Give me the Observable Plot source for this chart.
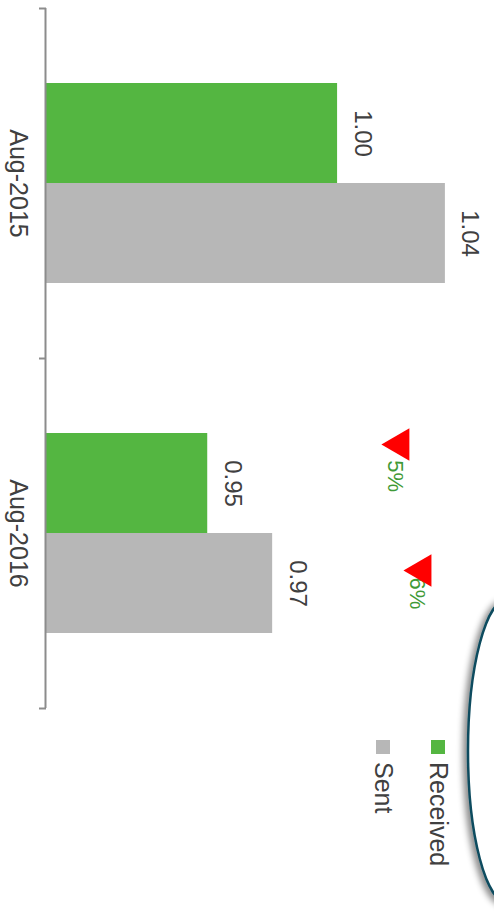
<!DOCTYPE html>
<html><head><meta charset="utf-8">
<script src="https://cdn.jsdelivr.net/npm/d3@7"></script>
<script src="https://cdn.jsdelivr.net/npm/@observablehq/plot@0.6"></script>
<style>
html,body{margin:0;padding:0;background:#fff;overflow:hidden;width:494px;height:911px;}
#rot{position:absolute;left:0;top:0;width:911px;height:494px;transform-origin:0 0;transform:translate(494px,0) rotate(90deg);font-family:"Liberation Sans",Arial,sans-serif;}
#legend{position:absolute;left:740px;top:45px;}
.row{display:flex;align-items:center;height:21px;margin-bottom:34px;font-size:25px;color:#404040;line-height:21px;}
.sw{width:14px;height:14px;margin-right:8px;flex:none;}
#deco{position:absolute;left:0;top:0;}
</style></head><body>
<svg id="deco" width="494" height="911">
  <defs><filter id="sh" x="-50%" y="-20%" width="200%" height="140%"><feDropShadow dx="-4" dy="2" stdDeviation="3" flood-color="#000" flood-opacity="0.45"/></filter></defs>
  <ellipse cx="508" cy="751" rx="40" ry="152" fill="#fff" stroke="#0e4b5e" stroke-width="2.5" filter="url(#sh)"/>
</svg>
<div id="rot"><div id="chart"></div><div id="legend"></div></div>
<script>
// ---- data ----
const categories = ["Aug-2015", "Aug-2016"];
const series = ["Received", "Sent"];
const received = [0.9995, 0.9453];
const sent = [1.0445, 0.9724];
const seriesColors = ["#54b641", "#b7b7b7"];
const changeLabels = ["5%", "6%"]; // decline Aug-2015 -> Aug-2016 per series

// ---- layout ----
const base = 0.878;
const bw = 2 / 7;
const annotLayout = [
  {triX: 1.2457, textX: 1.291, y: 1.0237},
  {triX: 1.6057, textX: 1.6257, y: 1.0329}
];

const values = [received, sent];
const rows = [];
categories.forEach((c, i) => series.forEach((s, j) => {
  const x1 = i + 0.5 + (j - 1) * bw;
  rows.push({category: c, series: s, value: values[j][i], x1, x2: x1 + bw, xc: x1 + bw / 2});
}));
const annots = series.map((s, j) => ({series: s, label: changeLabels[j], ...annotLayout[j]}));

const chart = Plot.plot({
  width: 911, height: 494,
  marginLeft: 8, marginRight: 203, marginTop: 0, marginBottom: 46,
  x: {domain: [0, categories.length]},
  y: {domain: [base, 1.065], axis: null},
  color: {domain: series, range: seriesColors},
  style: {fontFamily: "'Liberation Sans', Arial, sans-serif", background: "transparent", overflow: "visible"},
  marks: [
    Plot.rect(rows, {x1: "x1", x2: "x2", y1: () => base, y2: "value", fill: "series"}),
    Plot.ruleY([base], {stroke: "#8c8c8c", strokeWidth: 2}),
    Plot.axisX({anchor: "bottom", ticks: d3.range(categories.length + 1), tickSize: 7, tickFormat: () => "", stroke: "#8c8c8c", strokeWidth: 2}),
    Plot.text(categories, {x: (d, i) => i + 0.5, text: d => d, frameAnchor: "bottom", lineAnchor: "bottom", dy: 36, fontSize: 25, fill: "#404040"}),
    Plot.text(rows, {x: "xc", y: "value", text: d => d3.format(".2f")(d.value), lineAnchor: "bottom", dy: -18, fontSize: 24, fill: "#404040"}),
    Plot.text(annots, {x: "textX", y: "y", text: "label", textAnchor: "start", lineAnchor: "middle", fontSize: 22, fill: "#3f9a37"}),
    Plot.dot(annots, {x: "triX", y: "y", symbol: "triangle", rotate: 180, r: 12, fill: "#ff0000", stroke: "none", dy: -5.5})
  ]
});
document.getElementById("chart").appendChild(chart);

const legend = d3.select("#legend");
series.forEach((s, j) => {
  const row = legend.append("div").attr("class", "row");
  row.append("div").attr("class", "sw").style("background", seriesColors[j]);
  row.append("span").text(s);
});
</script>
</body></html>
